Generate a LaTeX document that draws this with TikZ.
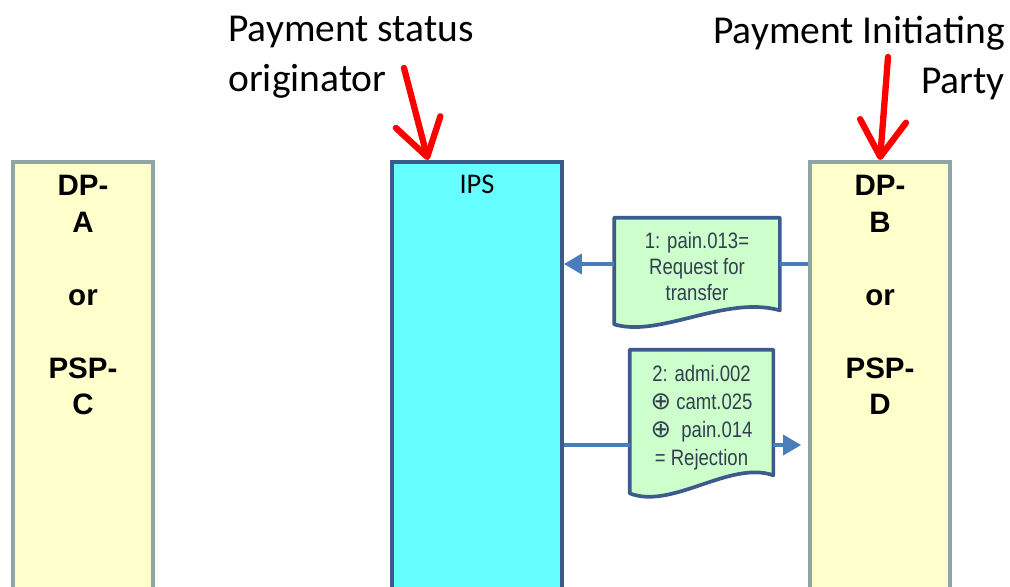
\documentclass[tikz,border=0pt]{standalone}
\usepackage{fontspec}
\usetikzlibrary{arrows.meta}
\newfontfamily\calfont{Carlito}
\newfontfamily\arfont{Liberation Sans}
\newfontfamily\docfont[FakeStretch=0.83]{Liberation Sans}
\newfontfamily\symfont{DejaVu Sans}
\definecolor{boxyellow}{HTML}{FFFFCC}
\definecolor{boxgray}{HTML}{8FA5A8}
\definecolor{ipscyan}{HTML}{66FFFF}
\definecolor{edgeblue}{HTML}{3C5A8C}
\definecolor{docgreen}{HTML}{CCFFCC}
\definecolor{flowblue}{HTML}{4A7EBB}
\definecolor{doctext}{HTML}{333F4F}
\begin{document}
\begin{tikzpicture}[x=0.02cm,y=-0.02cm,
    party/.style={draw=boxgray,fill=boxyellow,line width=2.1pt,minimum width=2.8cm,minimum height=9.4cm,anchor=north,inner sep=0pt},
    ips/.style={draw=edgeblue,fill=ipscyan,line width=2.1pt,minimum width=3.4cm,minimum height=9.4cm,anchor=north,inner sep=0pt},
    partytext/.style={font=\arfont\fontsize{16.8}{20.8}\selectfont\bfseries,align=center,anchor=north,inner sep=0pt},
    doc/.style={inner sep=0pt,align=center,text=doctext,font=\docfont\fontsize{12.7}{14.8}\selectfont},
    docshape/.style={draw=edgeblue,fill=docgreen,line width=2.1pt,line join=round},
    flow/.style={draw=flowblue,line width=2pt},
    flowarrow/.style={flow,-{Triangle[length=0.36cm,width=0.4cm]}},
    redarrow/.style={draw=red,line width=3.6pt,line cap=round,-{Straight Barb[length=0.72cm,width=0.92cm,round]}},
    toplabel/.style={font=\calfont\fontsize{22.5}{28.5}\selectfont,inner sep=0pt}]
  \clip (0,0) rectangle (1010,587);
  \node[party] (dpa) at (83,160) {}; % left party
  \node[ips] (ips) at (477,160) {}; % IPS column
  \node[party] (dpb) at (880,160) {}; % right party
  \node[partytext] (dpatext) at (83,175) {DP-\\A\\[20.8pt]or\\[20.8pt]PSP-\\C};
  \node[partytext] (dpbtext) at (880,175) {DP-\\B\\[20.8pt]or\\[20.8pt]PSP-\\D};
  \node[font=\calfont\fontsize{16.2}{19}\selectfont,anchor=north,inner sep=0pt] (ipstext) at (477,175) {IPS};
  % message 1
  \node[doc,minimum width=3.3cm,minimum height=1.84cm] (doc1) at (697,264) {};
  \draw[docshape] (doc1.south east) -- (doc1.north east) -- (doc1.north west) -- ([yshift=-0.28cm]doc1.south west)
    .. controls (660,338) and (725,295) .. (doc1.south east) -- cycle;
  \node[doc] (doc1text) at (697,267) {1: pain.013=\\Request for\\transfer};
  % message 2
  \node[doc,minimum width=2.86cm,minimum height=2.5cm] (doc2) at (701.5,412.5) {};
  \draw[docshape] (doc2.south east) -- (doc2.north east) -- (doc2.north west) -- ([yshift=-0.36cm]doc2.south west)
    .. controls (672,510) and (730,460) .. (doc2.south east) -- cycle;
  \node[doc,font=\docfont\fontsize{12.7}{15.9}\selectfont] (doc2text) at (701.5,418) {2: admi.002\\{\symfont\fontsize{14}{15.9}\selectfont ⊕} camt.025\\{\symfont\fontsize{14}{15.9}\selectfont ⊕}\ \ pain.014\\= Rejection};
  % flows
  \draw[flow] (dpb.west |- doc1.east) -- (doc1.east);
  \draw[flowarrow] (doc1.west) -- (ips.east |- doc1.west);
  \coordinate (m2) at (701.5,445);
  \draw[flow] (ips.east |- m2) -- (doc2.west |- m2);
  \draw[flowarrow,shorten >=4pt] (doc2.east |- m2) -- (dpb.west |- m2);
  % roles
  \node[toplabel,align=left,anchor=north west] (orig) at (228,16) {Payment status\\originator};
  \node[toplabel,align=right,anchor=north east] (init) at (1005,16) {Payment Initiating\\Party};
  \coordinate (r1) at (404,68);
  \coordinate (r2) at (888,57);
  \draw[redarrow] (r1) -- ([xshift=-0.98cm]ips.north);
  \draw[redarrow] (r2) -- (dpb.north);
\end{tikzpicture}
\end{document}
